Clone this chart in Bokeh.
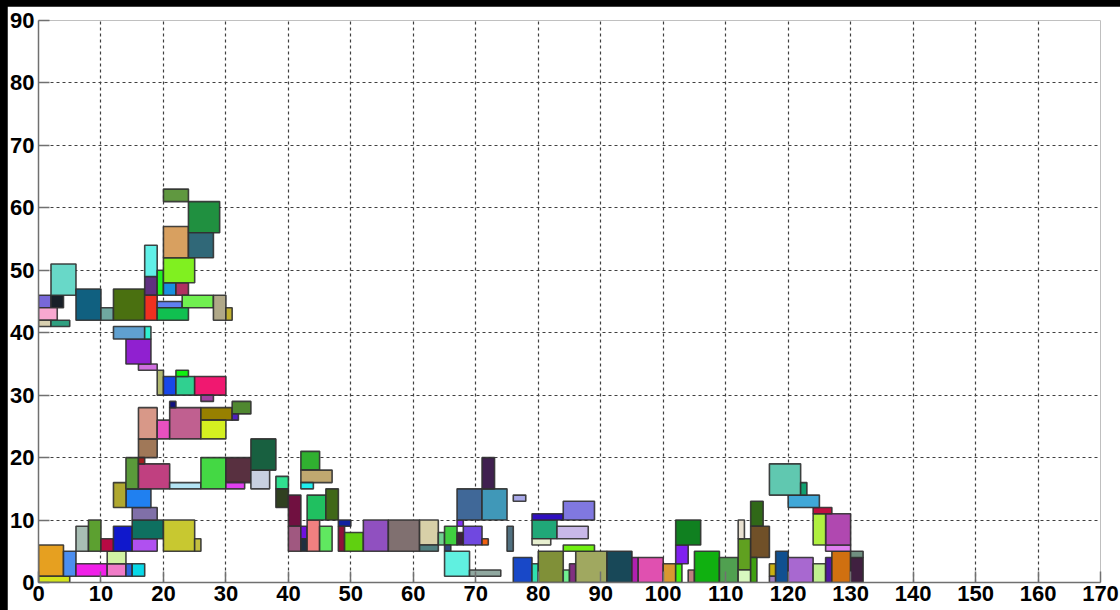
from bokeh.plotting import figure
from bokeh.models import Range1d, FixedTicker, ColumnDataSource
from bokeh.embed import file_html
from bokeh.resources import INLINE

# Packed rectangles: left, right, bottom, top edges
x0 = [0, 0, 4, 6, 11, 14, 15, 11, 6, 8, 10, 12, 15, 15, 15, 20, 25, 14, 12, 14,
      16, 21, 26, 30, 30, 34, 34, 16, 16, 16, 19, 21, 21, 26, 26, 31, 31, 19, 20, 22,
      22, 25, 26, 16, 14, 12, 17,
      0, 2, 0, 0, 2, 2, 6, 10, 12, 17, 17, 17, 19, 20, 22, 20, 20, 20, 24, 24,
      19, 23, 28, 30, 19,
      38, 38, 40, 40, 42, 42, 43, 45, 43, 46, 42, 42, 42, 48, 48, 49, 52, 56, 61, 61,
      64, 65, 65, 65, 69, 67, 67, 68, 67, 71, 71, 71, 76, 75, 76, 79, 80, 84, 85, 86,
      91, 84, 79, 79, 79, 83, 84, 95, 96, 100, 102, 102, 102, 104, 105, 109, 112, 112, 112, 114,
      114, 114, 117, 117, 118, 120, 124, 126, 127, 130, 130, 126, 126, 124, 124, 120, 117, 122]
x1 = [4, 5, 6, 11, 14, 15, 17, 14, 8, 10, 12, 15, 19, 20, 19, 25, 26, 18, 14, 16,
      21, 26, 30, 34, 33, 37, 38, 19, 17, 19, 21, 26, 22, 31, 30, 34, 32, 20, 22, 25,
      24, 30, 28, 19, 18, 17, 18,
      2, 4, 3, 2, 5, 6, 10, 12, 17, 19, 19, 19, 20, 22, 24, 25, 24, 24, 29, 28,
      23, 28, 30, 31, 24,
      40, 40, 42, 42, 43, 43, 45, 47, 46, 48, 45, 47, 44, 50, 49, 52, 56, 61, 64, 64,
      65, 67, 66, 69, 74, 68, 68, 71, 71, 75, 73, 72, 78, 76, 79, 80, 84, 85, 86, 91,
      95, 89, 83, 82, 84, 88, 89, 96, 100, 102, 103, 104, 106, 105, 109, 112, 114, 114, 113, 116,
      117, 115, 118, 118, 120, 124, 126, 127, 130, 132, 132, 130, 130, 126, 127, 125, 122, 123]
y0 = [1, 0, 1, 1, 1, 1, 1, 3, 5, 5, 5, 5, 5, 7, 10, 5, 5, 12, 12, 15,
      15, 15, 15, 16, 15, 15, 18, 20, 19, 23, 23, 23, 28, 26, 23, 27, 26, 30, 30, 30,
      33, 30, 29, 34, 35, 39, 39,
      44, 44, 42, 41, 41, 46, 42, 42, 42, 46, 42, 49, 46, 46, 46, 48, 52, 61, 56, 52,
      44, 44, 42, 42, 42,
      15, 12, 9, 5, 7, 5, 5, 5, 10, 10, 18, 16, 15, 9, 5, 5, 5, 5, 6, 5,
      6, 6, 5, 1, 1, 6, 9, 6, 10, 10, 15, 6, 13, 5, 0, 0, 0, 0, 0, 0,
      0, 5, 7, 6, 10, 7, 10, 0, 0, 0, 0, 3, 6, 0, 0, 0, 2, 0, 7, 9,
      4, 0, 1, 0, 0, 0, 0, 0, 0, 0, 4, 5, 6, 6, 11, 12, 14, 14]
y1 = [6, 1, 5, 3, 3, 3, 3, 5, 9, 10, 7, 9, 7, 10, 12, 10, 7, 15, 16, 20,
      19, 16, 20, 20, 16, 18, 23, 23, 20, 28, 26, 28, 29, 28, 26, 29, 27, 34, 33, 33,
      34, 33, 30, 35, 39, 41, 41,
      46, 46, 44, 42, 42, 51, 47, 44, 47, 49, 46, 54, 50, 48, 48, 52, 57, 63, 61, 56,
      45, 46, 46, 44, 44,
      17, 15, 14, 9, 9, 7, 10, 9, 14, 15, 21, 18, 16, 10, 9, 8, 10, 10, 10, 6,
      8, 9, 6, 5, 2, 8, 10, 9, 15, 15, 20, 7, 14, 9, 4, 3, 5, 2, 3, 5,
      5, 6, 10, 7, 11, 9, 13, 4, 4, 3, 3, 6, 10, 2, 5, 4, 7, 2, 10, 13,
      9, 4, 3, 1, 5, 4, 3, 4, 5, 4, 5, 6, 11, 11, 12, 14, 19, 16]

fill_colors = [
    "#E6A020", "#D4E41C", "#4C8EF0", "#F020E8", "#F07CC8", "#2C66E0", "#08D8E8", "#D2F4A4",
    "#A8BEB4", "#5CA030", "#B80A44", "#1018CC", "#B050F0", "#0E7060", "#8070A8", "#C8C830",
    "#C4C040", "#2080F0", "#B0A830", "#5A9A3A", "#C04080", "#B4E4F4", "#44D844", "#583040",
    "#E040F0", "#C8D0E0", "#186040", "#A07858", "#A02020", "#D89888", "#E850C0", "#C06090",
    "#101080", "#988000", "#D4F020", "#508830", "#5020C0", "#B0B870", "#1848E8", "#30D090",
    "#10F010", "#F01870", "#A040A0", "#D070E0", "#9020D0", "#60A0D0", "#30F0D0",
    "#7868D8", "#182028", "#F8A8D0", "#D8D0B0", "#30A080", "#68D8C8", "#106080", "#70A8A0",
    "#4A7010", "#603080", "#F03020", "#60F0E8", "#20F020", "#1890E0", "#B03060", "#80F020",
    "#D8A060", "#609840", "#209040", "#306878", "#6080F0", "#70F050", "#B0A888", "#C0B030",
    "#10C050",
    "#30E090", "#304020", "#701040", "#A05880", "#7010E0", "#203040", "#F08080", "#60E860",
    "#20C060", "#406818", "#30B030", "#C0A870", "#20F0F0", "#1020A0", "#901038", "#60D010",
    "#9050C0", "#807070", "#D8D0A8", "#508080", "#70D090", "#40D040", "#304880", "#60F0E0",
    "#90A8A0", "#402040", "#8030F0", "#7048E0", "#406898", "#4098B8", "#402050", "#F06010",
    "#A8A8E8", "#507080", "#1848C8", "#30E0B0", "#809038", "#70F090", "#803080", "#A0A860",
    "#184858", "#70F010", "#20A878", "#E8F0D0", "#3010C0", "#C8B8E8", "#8078E0", "#B020B0",
    "#E050B0", "#D89830", "#40F010", "#8020F0", "#108020", "#C08080", "#10B010", "#50A050",
    "#60A020", "#D8F8C0", "#E8E0D0", "#306818", "#705028", "#40A010", "#C8B010", "#A080C0",
    "#105090", "#A868D0", "#C0F090", "#5018A0", "#D07010", "#402040", "#709080", "#E080F0",
    "#B048B0", "#B0F040", "#C01040", "#40A8D8", "#60C8B0", "#10A070"]

x_ticks = list(range(0, 171, 10))
y_ticks = list(range(0, 91, 10))

src = ColumnDataSource(dict(left=x0, right=x1, bottom=y0, top=y1, color=fill_colors))

p = figure(width=1113, height=604,
           x_range=Range1d(0, 170), y_range=Range1d(0, 90),
           output_backend="svg", toolbar_location=None,
           min_border_left=31, min_border_right=20,
           min_border_top=14, min_border_bottom=28,
           background_fill_color="white", border_fill_color="white",
           outline_line_color=None)

p.quad(left="left", right="right", bottom="bottom", top="top", source=src,
       fill_color="color", fill_alpha=1.0,
       line_color="#303030", line_width=1.6, line_alpha=0.9)

for ax, ticks in ((p.xaxis[0], x_ticks), (p.yaxis[0], y_ticks)):
    ax.ticker = FixedTicker(ticks=ticks)
    ax.axis_line_color = "#707070"
    ax.axis_line_width = 1.5
    ax.major_tick_line_color = "#707070"
    ax.major_tick_line_width = 1.5
    ax.major_tick_in = 11
    ax.major_tick_out = 0
    ax.minor_tick_line_color = None
    ax.major_label_text_font = "Liberation Sans"
    ax.major_label_text_font_style = "bold"
    ax.major_label_text_font_size = "22px"
    ax.major_label_text_color = "#000000"
p.xaxis[0].major_label_standoff = 3
p.yaxis[0].major_label_standoff = 4

for g in (p.xgrid[0], p.ygrid[0]):
    g.grid_line_color = "#404040"
    g.grid_line_width = 1.2
    g.grid_line_dash = "3 3"

# Page frame: black band along the top and left edges of the page
page_css = ("<style>html, body { margin: 0 !important; background: #000000 !important; }"
            " body { padding: 6px 0 0 7px !important; box-sizing: border-box; }</style>")
html = file_html(p, INLINE)
html = html.replace("</head>", page_css + "</head>", 1)
open("out.html", "w").write(html)
